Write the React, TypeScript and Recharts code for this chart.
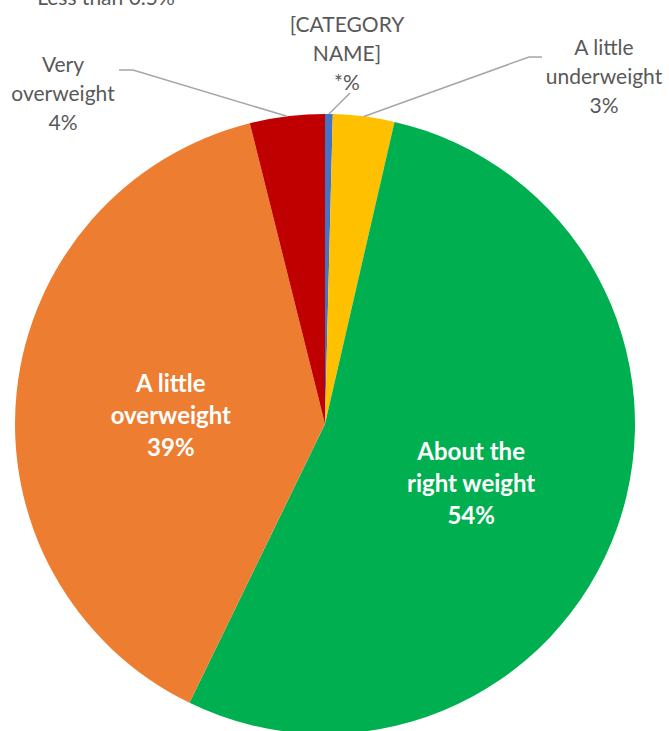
import React from "react";
import { PieChart, Pie, Cell } from "recharts";

// slices clockwise from 12 o'clock
const categories = ["[CATEGORY NAME]", "A little underweight", "About the right weight", "A little overweight", "Very overweight"];
const shares = [0.4, 3.2, 53.6, 38.9, 3.9];
const percentLabels = ["*%", "3%", "54%", "39%", "4%"];
const labelLines = [
  ["[CATEGORY", "NAME]"],
  ["A little", "underweight"],
  ["About the", "right weight"],
  ["A little", "overweight"],
  ["Very", "overweight"],
];
const note = "Less than 0.5%";

const colors = ["#4472C4", "#FFC000", "#00B050", "#ED7D31", "#C00000"];

const data = categories.map((name, i) => ({ name, value: shares[i] }));

const W = 669;
const H = 731;
const CX = 325;
const CY = 424;
const R = 310;
const FONT = "Lato, 'Open Sans', sans-serif";
const RAD = Math.PI / 180;

// outside label placement (text center x, first baseline y) and leader path after the arc point
const outside: Record<number, { x: number; y: number; path: number[][] }> = {
  0: { x: 347, y: 32, path: [[350, 93]] },
  1: { x: 604, y: 55, path: [[529, 57], [542, 57]] },
  4: { x: 63, y: 72, path: [[133, 70], [119, 70]] },
};

function renderLabel(props: any) {
  const { cx, cy, midAngle, outerRadius, index } = props;
  const lines = [...labelLines[index], percentLabels[index]];
  const cos = Math.cos(-midAngle * RAD);
  const sin = Math.sin(-midAngle * RAD);

  if (outside[index]) {
    const o = outside[index];
    const sx = cx + outerRadius * cos;
    const sy = cy + outerRadius * sin;
    const pts = [[sx, sy], ...o.path].map((p) => p.join(",")).join(" ");
    return (
      <g key={`lbl-${index}`}>
        <polyline points={pts} fill="none" stroke="#A6A6A6" strokeWidth={1.5} />
        {lines.map((t, i) => (
          <text key={i} x={o.x} y={o.y + i * 29} textAnchor="middle" fill="#595959" fontSize={21} fontFamily={FONT}>
            {t}
          </text>
        ))}
      </g>
    );
  }

  const lx = cx + outerRadius * 0.5 * cos;
  const ly = cy + outerRadius * 0.5 * sin;
  const offs = [-16, 16, 48];
  return (
    <g key={`lbl-${index}`}>
      {lines.map((t, i) => (
        <text key={i} x={lx} y={ly + offs[i]} textAnchor="middle" fill="#FFFFFF" fontSize={24} fontWeight="bold" fontFamily={FONT}>
          {t}
        </text>
      ))}
    </g>
  );
}

export default function App() {
  return (
    <div style={{ position: "absolute", left: 0, top: 0, width: W, height: H, background: "#fff" }}>
      <PieChart width={W} height={H} margin={{ top: 0, right: 0, bottom: 0, left: 0 }}>
        <Pie
          data={data}
          dataKey="value"
          nameKey="name"
          cx={CX}
          cy={CY}
          outerRadius={R}
          startAngle={90}
          endAngle={-270}
          stroke="none"
          label={renderLabel}
          labelLine={false}
          isAnimationActive={false}
        >
          {data.map((d, i) => (
            <Cell key={d.name} fill={colors[i]} />
          ))}
        </Pie>
      </PieChart>
      <svg width={W} height={H} style={{ position: "absolute", left: 0, top: 0, pointerEvents: "none" }}>
        <text x={106} y={5} textAnchor="middle" fill="#595959" fontSize={21} fontFamily={FONT}>
          {note}
        </text>
      </svg>
    </div>
  );
}
